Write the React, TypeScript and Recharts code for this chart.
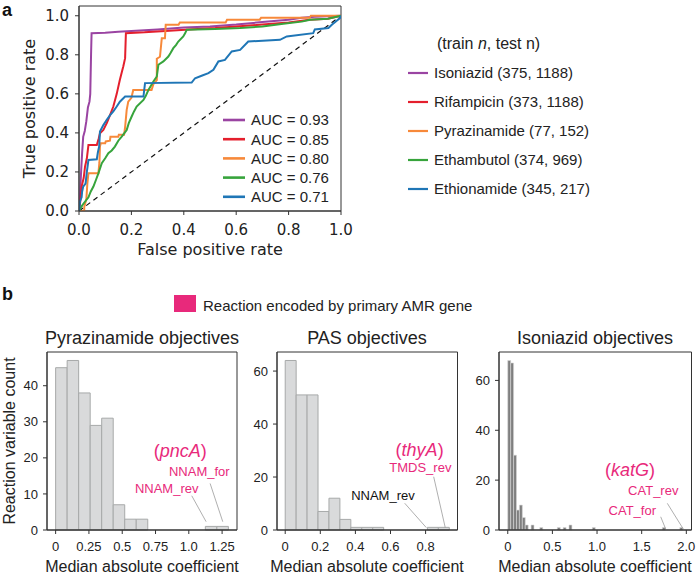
import React from 'react';
import { ComposedChart, Line, XAxis, YAxis, ReferenceArea, ReferenceLine, ReferenceDot } from 'recharts';

const SANS = '"Liberation Sans", Arial, Helvetica, sans-serif';
const DEJAVU = '"DejaVu Sans", sans-serif';
const PINK = '#e8297b';
const INK = '#222222';
const FRAME = '#333333';

// ---------- Panel a data ----------
const drugNames = ['Isoniazid', 'Rifampicin', 'Pyrazinamide', 'Ethambutol', 'Ethionamide'];
const trainCounts = [375, 373, 77, 374, 345];
const testCounts = [1188, 1188, 152, 969, 217];
const aucValues = ['0.93', '0.85', '0.80', '0.76', '0.71'];
const seriesColors = ['#9a44a2', '#e41f2d', '#f7893a', '#37a43c', '#1f76b6'];

const rocIsoniazid = [[0,0],[0.004,0.09],[0.008,0.2],[0.012,0.3],[0.016,0.38],[0.022,0.41],[0.028,0.46],[0.034,0.53],[0.04,0.56],[0.043,0.6],[0.046,0.8],[0.048,0.91],[0.1,0.913],[0.15,0.918],[0.2,0.922],[0.3,0.93],[0.4,0.94],[0.5,0.945],[0.6,0.955],[0.7,0.968],[0.8,0.98],[0.85,0.99],[0.9,0.995],[1,1]];
const rocRifampicin = [[0,0],[0.005,0.05],[0.01,0.125],[0.018,0.17],[0.023,0.227],[0.03,0.27],[0.036,0.338],[0.068,0.338],[0.075,0.37],[0.08,0.398],[0.093,0.415],[0.106,0.45],[0.118,0.49],[0.131,0.535],[0.144,0.6],[0.156,0.672],[0.165,0.72],[0.169,0.74],[0.176,0.783],[0.179,0.911],[0.25,0.915],[0.33,0.922],[0.42,0.93],[0.52,0.937],[0.6,0.945],[0.7,0.955],[0.8,0.965],[0.88,0.98],[0.95,0.985],[1,1]];
const rocPyrazinamide = [[0,0],[0.02,0],[0.02,0.02],[0.028,0.06],[0.032,0.142],[0.036,0.193],[0.074,0.193],[0.078,0.25],[0.08,0.33],[0.083,0.347],[0.1,0.347],[0.102,0.356],[0.118,0.36],[0.12,0.38],[0.15,0.38],[0.152,0.39],[0.172,0.39],[0.176,0.43],[0.182,0.518],[0.188,0.56],[0.2,0.58],[0.207,0.62],[0.277,0.62],[0.284,0.65],[0.297,0.67],[0.297,0.78],[0.309,0.79],[0.316,0.885],[0.328,0.885],[0.331,0.954],[0.38,0.954],[0.385,0.966],[0.56,0.966],[0.565,0.98],[0.69,0.98],[0.695,0.99],[0.88,0.99],[0.885,1],[1,1]];
const rocEthambutol = [[0,0],[0.008,0.02],[0.016,0.036],[0.036,0.07],[0.045,0.1],[0.055,0.125],[0.065,0.16],[0.074,0.193],[0.087,0.245],[0.1,0.27],[0.112,0.296],[0.125,0.31],[0.137,0.33],[0.15,0.36],[0.163,0.381],[0.182,0.415],[0.19,0.45],[0.201,0.484],[0.21,0.51],[0.22,0.535],[0.246,0.569],[0.255,0.59],[0.265,0.62],[0.284,0.663],[0.297,0.689],[0.303,0.749],[0.322,0.766],[0.341,0.791],[0.35,0.81],[0.36,0.834],[0.37,0.85],[0.379,0.868],[0.398,0.894],[0.405,0.91],[0.411,0.928],[0.519,0.932],[0.615,0.937],[0.7,0.945],[0.78,0.959],[0.85,0.97],[0.882,0.98],[0.95,0.985],[1,1]];
const rocEthionamide = [[0,0],[0.004,0.05],[0.01,0.07],[0.012,0.1],[0.016,0.125],[0.025,0.14],[0.03,0.2],[0.036,0.261],[0.068,0.265],[0.072,0.3],[0.077,0.33],[0.08,0.407],[0.093,0.44],[0.106,0.467],[0.118,0.49],[0.131,0.51],[0.144,0.535],[0.156,0.56],[0.176,0.586],[0.246,0.586],[0.252,0.655],[0.43,0.658],[0.443,0.68],[0.468,0.693],[0.494,0.706],[0.513,0.723],[0.532,0.766],[0.557,0.774],[0.583,0.817],[0.615,0.825],[0.646,0.868],[0.767,0.877],[0.793,0.894],[0.894,0.911],[0.9,0.93],[0.952,0.937],[0.965,0.954],[0.996,0.988],[1,1]];
const rocDiagonal = [[0,0],[1,1]];
const rocTicks = [0, 0.2, 0.4, 0.6, 0.8, 1.0];
const rocTickLabels = ['0.0', '0.2', '0.4', '0.6', '0.8', '1.0'];

// ---------- Panel b data ----------
const pyzCounts = [45, 47, 38, 29, 31, 7, 3, 3, 0, 0, 0, 0, 0, 1, 1];
const pyzMax = 1.297;
const pyzXTicks = [0, 0.25, 0.5, 0.75, 1.0, 1.25];
const pyzXTickLabels = ['0', '0.25', '0.5', '0.75', '1.0', '1.25'];
const pyzYTicks = [0, 10, 20, 30, 40];

const pasCounts = [64, 51, 51, 7, 12, 4, 1, 1, 1, 0, 0, 0, 0, 1, 1];
const pasMax = 0.935;
const pasXTicks = [0, 0.2, 0.4, 0.6, 0.8];
const pasXTickLabels = ['0', '0.2', '0.4', '0.6', '0.8'];
const pasYTicks = [0, 20, 40, 60];

const inhCounts = [68, 67, 30, 8, 10, 5, 2, 0, 2, 0,
  0, 1, 0, 0, 0, 0, 0, 1, 0, 1,
  0, 2, 0, 0, 0, 0, 0, 0, 0, 1,
  0, 0, 0, 0, 0, 0, 0, 0, 0, 0,
  0, 0, 0, 0, 0, 0, 0, 0, 0, 0,
  0, 0, 0, 1, 0, 0, 0, 0, 0, 1];
const inhMax = 1.96;
const inhXTicks = [0, 0.5, 1.0, 1.5, 2.0];
const inhXTickLabels = ['0', '0.5', '1.0', '1.5', '2.0'];
const inhYTicks = [0, 20, 40, 60];

const toXY = (pts: number[][]) => pts.map(([x, y]) => ({ x, y }));
const rocCurves = [rocIsoniazid, rocRifampicin, rocPyrazinamide, rocEthambutol, rocEthionamide];

function makeBins(counts: number[], max: number) {
  const n = counts.length;
  return counts.map((c, i) => ({ x0: (i * max) / n, x1: ((i + 1) * max) / n, mid: ((i + 0.5) * max) / n, count: c }));
}

function RocChart() {
  const fmt = (v: number) => { const i = rocTicks.indexOf(v); return i >= 0 ? rocTickLabels[i] : String(v); };
  return (
    <ComposedChart width={698} height={574} margin={{ top: 6, right: 357, bottom: 313, left: 0 }}>
      <XAxis type="number" dataKey="x" domain={[0, 1]} ticks={rocTicks} tickFormatter={fmt} allowDataOverflow
        height={50} tickSize={4} tickMargin={9} stroke={FRAME} tick={{ fontSize: 15, fontFamily: DEJAVU, fill: INK }} />
      <YAxis type="number" domain={[0, 1.05]} ticks={rocTicks} tickFormatter={fmt} allowDataOverflow
        width={79} tickSize={4} tickMargin={6} stroke={FRAME} tick={{ fontSize: 15, fontFamily: DEJAVU, fill: INK }} />
      <ReferenceArea x1={0} x2={1} y1={0} y2={1.05} fill="none" fillOpacity={0} stroke={FRAME} strokeWidth={1} ifOverflow="visible" />
      <Line data={toXY(rocDiagonal)} dataKey="y" type="linear" stroke="#111" strokeWidth={1.2} strokeDasharray="5 4" dot={false} activeDot={false} isAnimationActive={false} />
      {rocCurves.map((pts, i) => (
        <Line key={drugNames[i]} data={toXY(pts)} dataKey="y" type="linear" stroke={seriesColors[i]} strokeWidth={2}
          dot={false} activeDot={false} isAnimationActive={false} />
      ))}
    </ComposedChart>
  );
}

type Note = { x: number; y: number; text: string; color: string; size: number; gene?: boolean };
type Seg = [number, number, number, number];

function HistChart(props: {
  counts: number[]; max: number; left: number; right: number; yAxisWidth: number;
  xTicks: number[]; xTickLabels: string[]; yTicks: number[];
  fill: string; stroke: string; strokeWidth: number; notes: Note[]; leaders: Seg[];
}) {
  const { counts, max, left, right, yAxisWidth, xTicks, xTickLabels, yTicks, fill, stroke, strokeWidth, notes, leaders } = props;
  const bins = makeBins(counts, max);
  const peak = Math.max(...counts);
  const xDomain: [number, number] = [-0.05 * max, 1.05 * max];
  const yDomain: [number, number] = [0, 1.05 * peak];
  const fmt = (v: number) => { const i = xTicks.indexOf(v); return i >= 0 ? xTickLabels[i] : String(v); };
  return (
    <ComposedChart width={698} height={574} data={bins}
      margin={{ top: 352, right: 698 - right, bottom: 0, left: left - yAxisWidth }}>
      <XAxis type="number" dataKey="mid" domain={xDomain} ticks={xTicks} tickFormatter={fmt} allowDataOverflow
        height={44} tickSize={4} tickMargin={8} stroke={FRAME} tick={{ fontSize: 13, fontFamily: SANS, fill: INK }} />
      <YAxis type="number" domain={yDomain} ticks={yTicks} allowDataOverflow
        width={yAxisWidth} tickSize={4} tickMargin={5} stroke={FRAME} tick={{ fontSize: 13, fontFamily: SANS, fill: INK }} />
      <Line dataKey="count" stroke="none" dot={false} activeDot={false} isAnimationActive={false} />
      {bins.filter((b) => b.count > 0).map((b, i) => (
        <ReferenceArea key={'bin' + i} x1={b.x0} x2={b.x1} y1={0} y2={b.count} fill={fill} fillOpacity={1}
          stroke={stroke} strokeWidth={strokeWidth} ifOverflow="visible" />
      ))}
      <ReferenceArea x1={xDomain[0]} x2={xDomain[1]} y1={yDomain[0]} y2={yDomain[1]} fill="none" fillOpacity={0}
        stroke={FRAME} strokeWidth={1} ifOverflow="visible" />
      {leaders.map((s, i) => (
        <ReferenceLine key={'ld' + i} segment={[{ x: s[0], y: s[1] }, { x: s[2], y: s[3] }]} stroke="#9a9a9a" strokeWidth={0.8} ifOverflow="visible" />
      ))}
      {notes.map((n, i) => (
        <ReferenceDot key={'nt' + i} x={n.x} y={n.y} r={0} ifOverflow="visible"
          shape={(p: any) => (
            <text x={p.cx} y={p.cy} dy="0.35em" textAnchor="middle" fontFamily={SANS} fontSize={n.size} fill={n.color}>
              {n.gene ? (<><tspan>(</tspan><tspan fontStyle="italic">{n.text}</tspan><tspan>)</tspan></>) : n.text}
            </text>
          )} />
      ))}
    </ComposedChart>
  );
}

const pyzNotes: Note[] = [
  { x: 0.935, y: 21.9, text: 'pncA', color: PINK, size: 18, gene: true },
  { x: 1.079, y: 16.2, text: 'NNAM_for', color: PINK, size: 13 },
  { x: 0.834, y: 11.4, text: 'NNAM_rev', color: PINK, size: 13 },
];
const pyzLeaders: Seg[] = [[1.022, 9.5, 1.13, 2.3], [1.16, 12.9, 1.255, 2.3]];
const pasNotes: Note[] = [
  { x: 0.766, y: 30.2, text: 'thyA', color: PINK, size: 18, gene: true },
  { x: 0.77, y: 23.5, text: 'TMDS_rev', color: PINK, size: 13 },
  { x: 0.557, y: 13.2, text: 'NNAM_rev', color: '#111', size: 13 },
];
const pasLeaders: Seg[] = [[0.681, 10.1, 0.804, 0.9], [0.846, 20.1, 0.912, 0.9]];
const inhNotes: Note[] = [
  { x: 1.369, y: 24.1, text: 'katG', color: PINK, size: 18, gene: true },
  { x: 1.63, y: 16.0, text: 'CAT_rev', color: PINK, size: 13 },
  { x: 1.395, y: 8.0, text: 'CAT_for', color: PINK, size: 13 },
];
const inhLeaders: Seg[] = [[1.787, 10.7, 1.966, 0.4], [1.713, 5.3, 1.769, 0.4]];

const abs: React.CSSProperties = { position: 'absolute', left: 0, top: 0 };

function Overlay() {
  return (
    <svg width={698} height={574} style={{ ...abs, pointerEvents: 'none' }} fontFamily={SANS}>
      <text x={2} y={16} fontSize={18} fontWeight="bold" fill="#111">a</text>
      <text x={2} y={300} fontSize={18} fontWeight="bold" fill="#111">b</text>
      {/* panel a axis titles */}
      <text x={210} y={255} textAnchor="middle" fontSize={16} fontFamily={DEJAVU} fill={INK}>False positive rate</text>
      <text x={35} y={108.5} textAnchor="middle" fontSize={16} fontFamily={DEJAVU} fill={INK} transform="rotate(-90, 35, 108.5)">True positive rate</text>
      {/* AUC legend */}
      {aucValues.map((a, i) => (
        <g key={'auc' + i}>
          <line x1={223} x2={245} y1={120 + 19.2 * i} y2={120 + 19.2 * i} stroke={seriesColors[i]} strokeWidth={2.6} />
          <text x={251} y={120 + 19.2 * i + 5.3} fontSize={15} fill={INK}>{'AUC = ' + a}</text>
        </g>
      ))}
      {/* right legend */}
      <text x={437} y={49} fontSize={16} fill={INK}>
        <tspan>(train </tspan><tspan fontStyle="italic">n</tspan><tspan>, test n)</tspan>
      </text>
      {drugNames.map((d, i) => (
        <g key={'lg' + i}>
          <line x1={408} x2={428} y1={73 + 29 * i} y2={73 + 29 * i} stroke={seriesColors[i]} strokeWidth={2.2} />
          <text x={434} y={73 + 29 * i + 5.3} fontSize={15} fill={INK}>{`${d} (${trainCounts[i]}, ${testCounts[i]})`}</text>
        </g>
      ))}
      {/* panel b legend */}
      <rect x={174} y={295} width={22} height={17} fill={PINK} />
      <text x={203} y={310.5} fontSize={15} fill={INK}>Reaction encoded by primary AMR gene</text>
      {/* titles */}
      <text x={142} y={344} textAnchor="middle" fontSize={18} fill={INK}>Pyrazinamide objectives</text>
      <text x={367} y={344} textAnchor="middle" fontSize={18} fill={INK}>PAS objectives</text>
      <text x={595} y={344} textAnchor="middle" fontSize={18} fill={INK}>Isoniazid objectives</text>
      <text x={15} y={441} textAnchor="middle" fontSize={16} fill={INK} transform="rotate(-90, 15, 441)">Reaction variable count</text>
      <text x={142} y={572} textAnchor="middle" fontSize={16} fill={INK}>Median absolute coefficient</text>
      <text x={367} y={572} textAnchor="middle" fontSize={16} fill={INK}>Median absolute coefficient</text>
      <text x={595} y={572} textAnchor="middle" fontSize={16} fill={INK}>Median absolute coefficient</text>
    </svg>
  );
}

export default function App() {
  return (
    <div style={{ ...abs, width: 698, height: 574, background: '#fff', overflow: 'hidden' }}>
      <div style={abs}><RocChart /></div>
      <div style={abs}>
        <HistChart counts={pyzCounts} max={pyzMax} left={47} right={237} yAxisWidth={47}
          xTicks={pyzXTicks} xTickLabels={pyzXTickLabels} yTicks={pyzYTicks}
          fill="#d9dadb" stroke="#a7a9a9" strokeWidth={1} notes={pyzNotes} leaders={pyzLeaders} />
      </div>
      <div style={abs}>
        <HistChart counts={pasCounts} max={pasMax} left={277} right={457.5} yAxisWidth={50}
          xTicks={pasXTicks} xTickLabels={pasXTickLabels} yTicks={pasYTicks}
          fill="#d9dadb" stroke="#a7a9a9" strokeWidth={1} notes={pasNotes} leaders={pasLeaders} />
      </div>
      <div style={abs}>
        <HistChart counts={inhCounts} max={inhMax} left={499} right={691.5} yAxisWidth={50}
          xTicks={inhXTicks} xTickLabels={inhXTickLabels} yTicks={inhYTicks}
          fill="#7f7f7f" stroke="#d6d6d6" strokeWidth={0.6} notes={inhNotes} leaders={inhLeaders} />
      </div>
      <Overlay />
    </div>
  );
}
